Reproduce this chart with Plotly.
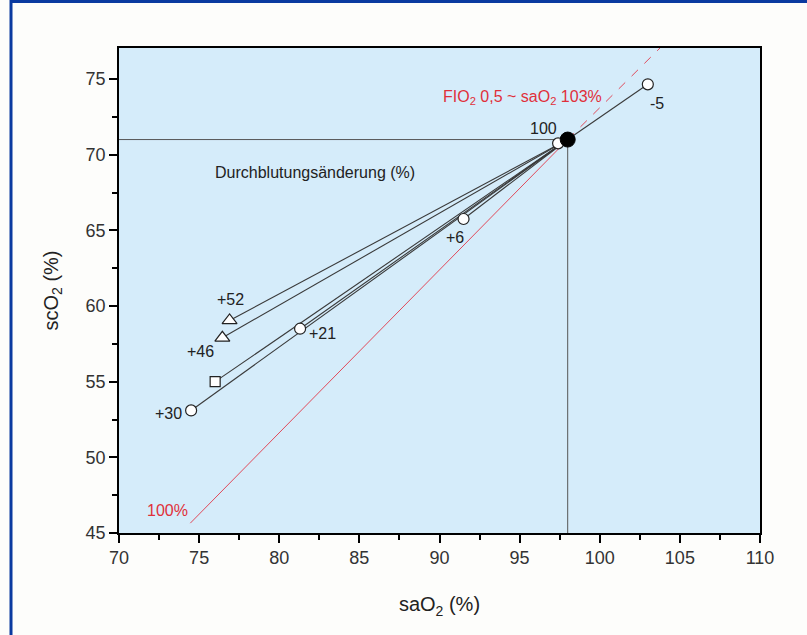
import plotly.graph_objects as go

# ---- data ----
center_sa = 98.0
center_sc = 71.0

circle_sa = [97.4, 103.0, 91.5, 81.3, 74.5]
circle_sc = [70.75, 74.65, 65.75, 58.5, 53.1]
circle_lbl = ["100", "-5", "+6", "+21", "+30"]

square_sa = [76.0]
square_sc = [55.0]

tri_sa = [76.9, 76.45]
tri_sc = [59.05, 57.9]
tri_lbl = ["+52", "+46"]

# reference line (red): solid below the working point, dashed above
ref_solid_sa = [74.45, 98.0]
ref_solid_sc = [45.65, 71.0]
ref_dash_sa = [98.0, 103.9]
ref_dash_sc = [71.0, 77.2]

x_ticks = [70, 75, 80, 85, 90, 95, 100, 105, 110]
y_ticks = [45, 50, 55, 60, 65, 70, 75]

FONT = "Liberation Sans, Arial, sans-serif"
LINE_C = "#3a3a3a"
RED = "#e0303a"

fig = go.Figure()

# connecting lines to working point
all_sa = circle_sa + square_sa + tri_sa
all_sc = circle_sc + square_sc + tri_sc
lx, ly = [], []
for a, c in zip(all_sa, all_sc):
    lx += [a, center_sa, None]
    ly += [c, center_sc, None]
fig.add_trace(go.Scatter(x=lx, y=ly, mode="lines",
                         line=dict(color=LINE_C, width=1.1), hoverinfo="skip"))

# crosshair lines
fig.add_trace(go.Scatter(x=[70, center_sa, center_sa], y=[center_sc, center_sc, 45],
                         mode="lines", line=dict(color="#555555", width=1), hoverinfo="skip"))

# red reference line
fig.add_trace(go.Scatter(x=ref_solid_sa, y=ref_solid_sc, mode="lines",
                         line=dict(color="#e04a5a", width=1)))
fig.add_trace(go.Scatter(x=ref_dash_sa, y=ref_dash_sc, mode="lines",
                         line=dict(color="#e04a5a", width=1, dash="dash")))

# markers
fig.add_trace(go.Scatter(x=circle_sa, y=circle_sc, mode="markers",
                         marker=dict(symbol="circle", size=11, color="white",
                                     line=dict(color="#222222", width=1.2))))
fig.add_trace(go.Scatter(x=square_sa, y=square_sc, mode="markers",
                         marker=dict(symbol="square", size=10, color="white",
                                     line=dict(color="#222222", width=1.2))))
fig.add_trace(go.Scatter(x=tri_sa, y=tri_sc, mode="markers",
                         marker=dict(symbol="triangle-up", size=13, color="white",
                                     line=dict(color="#222222", width=1.2))))
fig.add_trace(go.Scatter(x=[center_sa], y=[center_sc], mode="markers",
                         marker=dict(symbol="circle", size=15, color="black",
                                     line=dict(color="black", width=1))))

# labels
lbl_pos = {
    "100": (96.47, 71.76),
    "-5": (103.6, 73.4),
    "+6": (90.98, 64.56),
    "+21": (82.68, 58.21),
    "+30": (73.08, 52.92),
    "+52": (76.95, 60.46),
    "+46": (75.08, 57.02),
}
ann = []
for t, (x, y) in lbl_pos.items():
    ann.append(dict(x=x, y=y, text=t, showarrow=False,
                    font=dict(family=FONT, size=16, color="#222222")))
ann.append(dict(x=82.2, y=68.85, text="Durchblutungsänderung (%)", showarrow=False,
                font=dict(family=FONT, size=16, color="#222222")))
ann.append(dict(x=95.17, y=73.81, text="FIO<sub>2</sub> 0,5 ~ saO<sub>2</sub> 103%", showarrow=False,
                font=dict(family=FONT, size=16, color=RED)))
ann.append(dict(x=73.0, y=46.5, text="100%", showarrow=False,
                font=dict(family=FONT, size=16, color=RED)))
fig.update_layout(annotations=ann)

axis_common = dict(
    showgrid=False, zeroline=False, showline=True, linecolor="black", linewidth=1.5,
    mirror=True, ticks="outside", ticklen=8, tickwidth=1.5, tickcolor="black",
    tickfont=dict(family=FONT, size=18, color="#333333"),
)
fig.update_xaxes(range=[70, 110], tickvals=x_ticks,
                 minor=dict(dtick=2.5, tick0=70, ticks="outside", ticklen=5, tickwidth=1.5, tickcolor="black"),
                 title=dict(text="saO<sub>2</sub> (%)", font=dict(family=FONT, size=20, color="#222222"),
                            standoff=30),
                 **axis_common)
fig.update_yaxes(range=[45, 77.05], tickvals=y_ticks,
                 minor=dict(dtick=2.5, tick0=45, ticks="outside", ticklen=5, tickwidth=1.5, tickcolor="black"),
                 title=dict(text="scO<sub>2</sub> (%)", font=dict(family=FONT, size=20, color="#222222"),
                            standoff=22),
                 **axis_common)

# page border (blue, left and top)
L, R, T, B = 119, 47, 48, 102
W, H = 807, 635
pw, ph = W - L - R, H - T - B
def px(xp):
    return (xp - L) / pw
def py(yp):
    return (H - B - yp) / ph
fig.add_shape(type="line", xref="paper", yref="paper", x0=px(11), x1=px(W + 5), y0=py(1.5), y1=py(1.5),
              line=dict(color="#0a3aa0", width=3), layer="above")
fig.add_shape(type="line", xref="paper", yref="paper", x0=px(11), x1=px(11), y0=py(H + 5), y1=py(0),
              line=dict(color="#0a3aa0", width=3), layer="above")

fig.update_layout(
    width=W, height=H, showlegend=False,
    margin=dict(l=L, r=R, t=T, b=B),
    plot_bgcolor="#d5ecfa", paper_bgcolor="#fdfdfb",
    font=dict(family=FONT),
)

fig.write_html("out.html", config={"displayModeBar": False},
               post_script="document.body.style.margin='0';document.body.style.overflow='hidden';")
